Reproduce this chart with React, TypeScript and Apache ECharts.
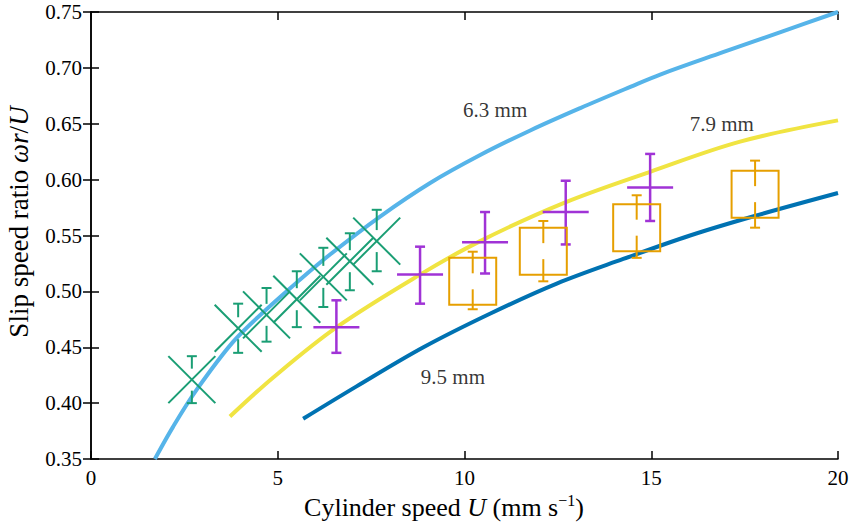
import React, { useEffect, useRef } from "react";
import * as echarts from "echarts";

// Model curves (cylinder speed U, slip speed ratio)
const curve63U = [1.71, 2.2, 2.83, 3.81, 4.7, 5.51, 6.4, 7.74, 9.08, 10.42, 11.76, 13.1, 14.44, 15.24, 16.92, 18.5, 20];
const curve63V = [0.35, 0.379, 0.412, 0.455, 0.484, 0.508, 0.533, 0.567, 0.597, 0.622, 0.644, 0.664, 0.683, 0.694, 0.714, 0.7325, 0.75];
const curve79U = [3.72, 4.88, 6.58, 8.81, 10.42, 12.65, 14.97, 17.38, 20];
const curve79V = [0.388, 0.423, 0.468, 0.515, 0.545, 0.579, 0.607, 0.634, 0.653];
const curve95U = [5.68, 7.11, 8.9, 10.68, 12.47, 14.25, 16.04, 17.72, 20];
const curve95V = [0.386, 0.415, 0.45, 0.48, 0.507, 0.529, 0.55, 0.567, 0.588];

// Green crosses with error bars
const greenU = [2.7, 3.94, 4.7, 5.51, 6.22, 6.93, 7.65];
const greenV = [0.421, 0.467, 0.479, 0.493, 0.513, 0.527, 0.545];
const greenLo = [0.4, 0.445, 0.455, 0.468, 0.486, 0.501, 0.518];
const greenHi = [0.442, 0.489, 0.503, 0.518, 0.539, 0.552, 0.573];

// Purple pluses with error bars
const purpleU = [6.57, 8.81, 10.55, 12.71, 14.97];
const purpleV = [0.468, 0.515, 0.544, 0.571, 0.593];
const purpleLo = [0.445, 0.489, 0.516, 0.542, 0.563];
const purpleHi = [0.492, 0.54, 0.571, 0.599, 0.623];

// Orange squares with error bars
const orangeU = [10.22, 12.11, 14.61, 17.78];
const orangeV = [0.509, 0.536, 0.557, 0.587];
const orangeLo = [0.484, 0.509, 0.53, 0.557];
const orangeHi = [0.5355, 0.563, 0.586, 0.617];

// Curve annotations
const curveLabels = ["6.3 mm", "7.9 mm", "9.5 mm"];
const labelU = [10.82, 16.89, 9.69];
const labelV = [0.662, 0.65, 0.423];

const xTicks = [0, 5, 10, 15, 20];
const yMin = 0.35;
const yMax = 0.75;

const FONT = "'Liberation Serif', 'Times New Roman', serif";
const C_LIGHT = "#56B4E9";
const C_YELLOW = "#F0E442";
const C_DARK = "#0072B2";
const C_GREEN = "#1A9E74";
const C_PURPLE = "#A033D6";
const C_ORANGE = "#E69F00";

function zip(u: number[], v: number[]) {
  return u.map((x, i) => [x, v[i]]);
}

function markerSeries(kind: "x" | "plus" | "square", u: number[], v: number[], lo: number[], hi: number[], color: string) {
  return {
    type: "custom",
    xAxisIndex: 0,
    yAxisIndex: 0,
    clip: false,
    data: u.map((x, i) => [x, v[i], lo[i], hi[i]]),
    encode: { x: 0, y: 1 },
    renderItem: (params: any, api: any) => {
      const c = api.coord([api.value(0), api.value(1)]);
      const t = api.coord([api.value(0), api.value(3)]);
      const b = api.coord([api.value(0), api.value(2)]);
      const lw = kind === "plus" ? 2.5 : 2;
      const st = { stroke: color, lineWidth: lw, fill: "none" };
      const cap = 5;
      const children: any[] = [];
      const line = (x1: number, y1: number, x2: number, y2: number) =>
        children.push({ type: "line", shape: { x1, y1, x2, y2 }, style: st });
      const gap = kind === "x" ? 11 : kind === "square" ? 8 : 0;
      if (gap > 0) {
        line(c[0], t[1], c[0], c[1] - gap);
        line(c[0], c[1] + gap, c[0], b[1]);
      } else {
        line(c[0], t[1], c[0], b[1]);
      }
      line(c[0] - cap, t[1], c[0] + cap, t[1]);
      line(c[0] - cap, b[1], c[0] + cap, b[1]);
      if (kind === "x") {
        const h = 23.5;
        line(c[0] - h, c[1] - h, c[0] + h, c[1] + h);
        line(c[0] - h, c[1] + h, c[0] + h, c[1] - h);
      } else if (kind === "plus") {
        const h = 23;
        line(c[0] - h, c[1], c[0] + h, c[1]);
      } else {
        const h = 23.5;
        children.push({
          type: "rect",
          shape: { x: c[0] - h, y: c[1] - h, width: 2 * h, height: 2 * h },
          style: st,
        });
      }
      return { type: "group", children };
    },
    z: 5,
  };
}

export default function App() {
  const ref = useRef<HTMLDivElement>(null);
  useEffect(() => {
    if (!ref.current) return;
    const chart = echarts.init(ref.current, undefined, { renderer: "svg" });
    const axisLine = { show: true, lineStyle: { color: "#000", width: 1.5 } };
    const tick = { show: true, inside: true, length: 8, lineStyle: { color: "#000", width: 1.5 } };
    const lineSeries = (u: number[], v: number[], color: string) => ({
      type: "line",
      data: zip(u, v),
      smooth: 0.35,
      showSymbol: false,
      symbol: "none",
      lineStyle: { color, width: 4 },
      z: 3,
      clip: true,
    });
    const nameFont = (size: number) => ({
      n: { fontFamily: FONT, fontSize: size, fill: "#000", lineHeight: size + 4 },
      i: { fontFamily: FONT, fontSize: size, fill: "#000", fontStyle: "italic", lineHeight: size + 4 },
      s: { fontFamily: FONT, fontSize: Math.round(size * 0.62), fill: "#000", verticalAlign: "top", lineHeight: 14, padding: [0, 0, 10, 0] },
    });
    chart.setOption({
      animation: false,
      backgroundColor: "#fff",
      textStyle: { fontFamily: FONT },
      grid: { left: 91, right: 16, top: 12, bottom: 67, containLabel: false },
      xAxis: [
        {
          type: "value",
          min: xTicks[0],
          max: xTicks[xTicks.length - 1],
          interval: 5,
          axisLine,
          axisTick: tick,
          splitLine: { show: false },
          axisLabel: { color: "#000", fontSize: 21, fontFamily: FONT, margin: 8 },
        },
        {
          type: "value",
          position: "top",
          min: xTicks[0],
          max: xTicks[xTicks.length - 1],
          interval: 5,
          axisLine,
          axisTick: tick,
          axisLabel: { show: false },
          splitLine: { show: false },
        },
      ],
      yAxis: [
        {
          type: "value",
          min: yMin,
          max: yMax,
          interval: 0.05,
          axisLine,
          axisTick: tick,
          splitLine: { show: false },
          axisLabel: {
            color: "#000",
            fontSize: 21,
            fontFamily: FONT,
            margin: 9,
            formatter: (v: number) => v.toFixed(2),
          },
        },
        {
          type: "value",
          position: "right",
          min: yMin,
          max: yMax,
          interval: 0.05,
          axisLine,
          axisTick: tick,
          axisLabel: { show: false },
          splitLine: { show: false },
        },
      ],
      graphic: [
        {
          type: "text",
          x: 444,
          y: 507,
          style: {
            text: "{n|Cylinder speed }{i|U}{n| (mm s}{s|−1}{n|)}",
            align: "center",
            verticalAlign: "middle",
            fontFamily: FONT,
            fontSize: 26,
            fill: "#000",
            rich: nameFont(26),
          },
        },
        {
          type: "text",
          x: 19,
          y: 222,
          rotation: Math.PI / 2,
          style: {
            text: "{n|Slip speed ratio }{i|ωr}{n|/}{i|U}",
            align: "center",
            verticalAlign: "middle",
            fontFamily: FONT,
            fontSize: 27,
            fill: "#000",
            rich: nameFont(27),
          },
        },
      ],
      series: [
        lineSeries(curve63U, curve63V, C_LIGHT),
        lineSeries(curve79U, curve79V, C_YELLOW),
        lineSeries(curve95U, curve95V, C_DARK),
        markerSeries("x", greenU, greenV, greenLo, greenHi, C_GREEN),
        markerSeries("plus", purpleU, purpleV, purpleLo, purpleHi, C_PURPLE),
        markerSeries("square", orangeU, orangeV, orangeLo, orangeHi, C_ORANGE),
        {
          type: "scatter",
          data: curveLabels.map((t, i) => [labelU[i], labelV[i], t]),
          symbolSize: 1,
          itemStyle: { color: "rgba(0,0,0,0)" },
          label: {
            show: true,
            position: "inside",
            formatter: (p: any) => p.value[2],
            color: "#000",
            fontSize: 21,
            fontFamily: FONT,
          },
          z: 6,
        },
      ],
    });
    return () => chart.dispose();
  }, []);
  return <div ref={ref} style={{ position: "absolute", left: 0, top: 0, width: 854, height: 526 }} />;
}
